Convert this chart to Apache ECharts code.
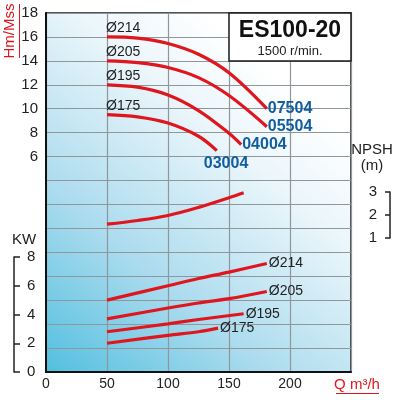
<!DOCTYPE html>
<html><head><meta charset="utf-8">
<script src="https://cdn.jsdelivr.net/npm/echarts@6/dist/echarts.min.js"></script>
<style>html,body{margin:0;padding:0;background:#fff}#c{width:400px;height:400px}</style>
</head><body><div id="c"></div>
<script>
// ---- data ----
const diameters = ['Ø214', 'Ø205', 'Ø195', 'Ø175'];
const models = ['07504', '05504', '04004', '03004'];
const xTicks = [0, 50, 100, 150, 200];
const headQ214 = [50, 75, 100, 125, 150, 181];
const head214  = [16.0, 15.9, 15.45, 14.55, 13.0, 10.0];
const headQ205 = [50, 75, 100, 125, 150, 181];
const head205  = [14.0, 13.85, 13.45, 12.6, 11.1, 8.5];
const headQ195 = [50, 75, 100, 125, 150, 160];
const head195  = [12.0, 11.8, 11.15, 9.85, 7.95, 7.0];
const headQ175 = [50, 75, 100, 125, 140];
const head175  = [9.5, 9.32, 8.8, 7.7, 6.5];
const powQ214 = [50, 100, 125, 150, 181];
const pow214  = [5.0, 6.0, 6.5, 6.95, 7.55];
const powQ205 = [50, 100, 125, 150, 181];
const pow205  = [3.7, 4.45, 4.8, 5.1, 5.6];
const powQ195 = [50, 100, 125, 162];
const pow195  = [2.8, 3.35, 3.65, 4.05];
const powQ175 = [50, 100, 125, 141];
const pow175  = [2.0, 2.55, 2.8, 3.05];
const npshQ = [50, 75, 100, 125, 150, 162];
const npshV = [1.6, 1.76, 1.98, 2.33, 2.75, 2.97];

const zip = (a, b) => a.map((v, i) => [v, b[i]]);
const RED = '#e0161e';
const BLUE = '#115d9f';
const FONT = 'Liberation Sans, Arial, sans-serif';
const SMOOTH = 0.35;

const headSets = [[headQ214, head214], [headQ205, head205], [headQ195, head195], [headQ175, head175]];
const powSets = [[powQ214, pow214], [powQ205, pow205], [powQ195, pow195], [powQ175, pow175]];

const series = [];
headSets.forEach((s, k) => {
  const pts = zip(s[0], s[1]);
  const data = pts.map((p, i) => i === 0 ? {
    value: p,
    label: { show: true, position: 'top', align: 'left', distance: 2, offset: [-1, 0],
      formatter: diameters[k], color: '#222', fontSize: 14, fontFamily: FONT }
  } : p);
  series.push({
    type: 'line', xAxisIndex: 0, yAxisIndex: 0, data, smooth: SMOOTH, clip: false,
    symbol: 'circle', symbolSize: 0, showSymbol: true, label: { show: false },
    lineStyle: { color: RED, width: 3.2 }, itemStyle: { color: RED },
    endLabel: { show: true, formatter: models[k], color: BLUE, fontWeight: 'bold', fontSize: 16,
      fontFamily: FONT, distance: 1, offset: k === 3 ? [-14, 13] : [0, 0] },
    silent: true, animation: false
  });
});
powSets.forEach((s, k) => {
  series.push({
    type: 'line', xAxisIndex: 1, yAxisIndex: 1, data: zip(s[0], s[1]), smooth: SMOOTH, clip: false,
    showSymbol: false, lineStyle: { color: RED, width: 3.2 },
    endLabel: { show: true, formatter: diameters[k], color: '#222', fontSize: 14, fontFamily: FONT, distance: 2 },
    silent: true, animation: false
  });
});
series.push({
  type: 'line', xAxisIndex: 2, yAxisIndex: 2, data: zip(npshQ, npshV), smooth: SMOOTH, clip: false,
  showSymbol: false, lineStyle: { color: RED, width: 3.2 }, silent: true, animation: false
});

const G = { left: 46, width: 305 };
const hiddenX = { type: 'value', min: 0, max: 250, show: false };

const option = {
  animation: false,
  grid: [
    { left: G.left, width: G.width, top: 13, height: 359, show: true, borderColor: '#1a1a1a', borderWidth: 1.5,
      backgroundColor: { type: 'linear', x: 0, y: 1, x2: 1, y2: 0,
        colorStops: [{ offset: 0, color: '#52bfdf' }, { offset: 0.3, color: '#aadbee' }, { offset: 0.62, color: '#ebf6fb' }, { offset: 0.8, color: '#ffffff' }, { offset: 1, color: '#ffffff' }] } },
    { left: G.left, width: G.width, top: 257, height: 115 },
    { left: G.left, width: G.width, top: 192, height: 46 }
  ],
  xAxis: [
    { type: 'value', gridIndex: 0, min: 0, max: 250, interval: 50,
      axisLine: { show: true, onZero: false, lineStyle: { color: '#111', width: 2 } },
      axisTick: { show: false },
      splitLine: { show: true, lineStyle: { color: '#8f979b', width: 1.2 } },
      axisLabel: { color: '#222', fontSize: 14, fontFamily: FONT, margin: 5,
        formatter: v => xTicks.includes(v) ? String(v) : '' } },
    Object.assign({ gridIndex: 1 }, hiddenX),
    Object.assign({ gridIndex: 2 }, hiddenX)
  ],
  yAxis: [
    { type: 'value', gridIndex: 0, min: -12, max: 18, interval: 2,
      axisLine: { show: true, onZero: false, lineStyle: { color: '#111', width: 2 } },
      axisTick: { show: false },
      splitLine: { show: true, lineStyle: { color: '#8f979b', width: 1.2 } },
      axisLabel: { color: '#222', fontSize: 15, fontFamily: FONT, margin: 8,
        formatter: v => v >= 6 ? String(v) : '' } },
    { type: 'value', gridIndex: 1, min: 0, max: 8, interval: 2, position: 'left', offset: 32,
      axisLine: { show: true, onZero: false, lineStyle: { color: '#222', width: 1.5 } },
      axisTick: { show: true, inside: true, length: 6, lineStyle: { color: '#222', width: 1.5 } },
      splitLine: { show: false },
      axisLabel: { inside: true, margin: 13, color: '#222', fontSize: 15, fontFamily: FONT } },
    { type: 'value', gridIndex: 2, min: 1, max: 3, interval: 1, position: 'right', offset: 39,
      axisLine: { show: true, onZero: false, lineStyle: { color: '#222', width: 1.5 } },
      axisTick: { show: true, inside: true, length: 5, lineStyle: { color: '#222', width: 1.5 } },
      splitLine: { show: false },
      axisLabel: { inside: true, margin: 13, color: '#222', fontSize: 15, fontFamily: FONT } }
  ],
  graphic: [
    { type: 'rect', z: 100, shape: { x: 229, y: 13, width: 122, height: 48 },
      style: { fill: '#fff', stroke: '#1a1a1a', lineWidth: 1.5 } },
    { type: 'text', z: 101, x: 290, y: 31, style: { text: 'ES100-20', fill: '#111', font: 'bold 23px Liberation Sans, Arial', textAlign: 'center', textVerticalAlign: 'middle' } },
    { type: 'text', z: 101, x: 290, y: 51, style: { text: '1500 r/min.', fill: '#222', font: '13px Liberation Sans, Arial', textAlign: 'center', textVerticalAlign: 'middle' } },
    { type: 'text', z: 101, x: 10, y: 31, rotation: Math.PI / 2, style: { text: 'Hm/Mss', fill: RED, font: '15px Liberation Sans, Arial', textAlign: 'center', textVerticalAlign: 'middle' } },
    { type: 'line', z: 101, shape: { x1: 19.5, y1: 4, x2: 19.5, y2: 58 }, style: { stroke: RED, lineWidth: 1 } },
    { type: 'text', z: 101, x: 24, y: 240, style: { text: 'KW', fill: '#222', font: '15px Liberation Sans, Arial', textAlign: 'center', textVerticalAlign: 'middle' } },
    { type: 'text', z: 101, x: 372, y: 150, style: { text: 'NPSH', fill: '#222', font: '15px Liberation Sans, Arial', textAlign: 'center', textVerticalAlign: 'middle' } },
    { type: 'text', z: 101, x: 372, y: 166, style: { text: '(m)', fill: '#222', font: '15px Liberation Sans, Arial', textAlign: 'center', textVerticalAlign: 'middle' } },
    { type: 'text', z: 101, x: 357, y: 385, style: { text: 'Q m³/h', fill: RED, font: '15px Liberation Sans, Arial', textAlign: 'center', textVerticalAlign: 'middle' } },
    { type: 'line', z: 101, shape: { x1: 336, y1: 393.5, x2: 379, y2: 393.5 }, style: { stroke: RED, lineWidth: 1 } }
  ],
  series
};
const chart = echarts.init(document.getElementById('c'), null, { renderer: 'canvas' });
chart.setOption(option);
</script></body></html>
